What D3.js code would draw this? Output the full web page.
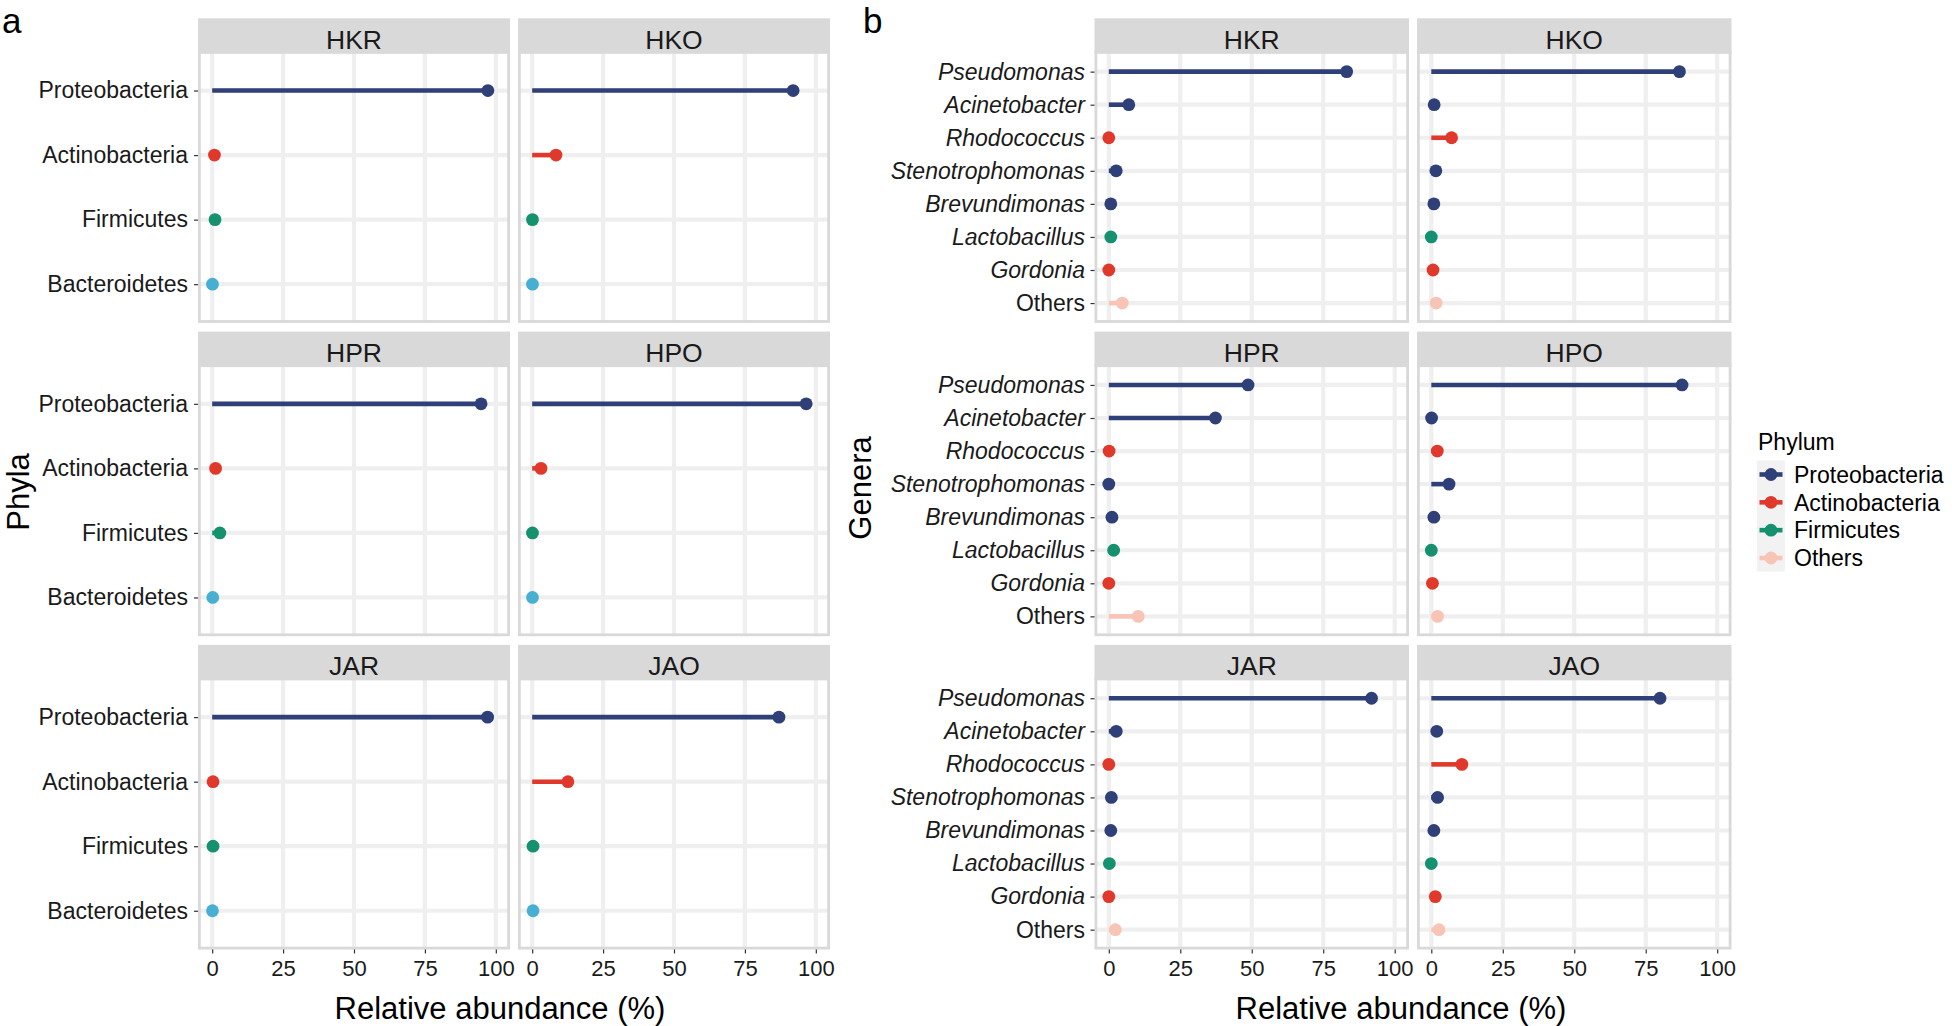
<!DOCTYPE html>
<html>
<head>
<meta charset="utf-8">
<script src="https://cdn.jsdelivr.net/npm/d3@7"></script>
<style>
  html, body { margin: 0; padding: 0; background: #ffffff; }
  svg { display: block; font-family: "Liberation Sans", Arial, Helvetica, sans-serif; }
</style>
</head>
<body>
<svg id="chart" width="1952" height="1026"></svg>
<script>
// ---------------- data ----------------
const sites = ["HKR", "HKO", "HPR", "HPO", "JAR", "JAO"];

const phyla = ["Proteobacteria", "Actinobacteria", "Firmicutes", "Bacteroidetes"];
const phylaHKR = [97.2, 0.8, 1.0, 0.1];
const phylaHKO = [92.0, 8.4, 0.1, 0.1];
const phylaHPR = [94.8, 1.2, 2.7, 0.2];
const phylaHPO = [96.6, 3.1, 0.1, 0.1];
const phylaJAR = [97.1, 0.3, 0.3, 0.1];
const phylaJAO = [87.0, 12.6, 0.3, 0.3];

const genera = ["Pseudomonas", "Acinetobacter", "Rhodococcus", "Stenotrophomonas",
                "Brevundimonas", "Lactobacillus", "Gordonia", "Others"];
const generaPhylum = ["Proteobacteria", "Proteobacteria", "Actinobacteria", "Proteobacteria",
                      "Proteobacteria", "Firmicutes", "Actinobacteria", "Others"];
const generaHKR = [83.2, 7.0, 0.0, 2.6, 0.7, 0.7, 0.0, 4.7];
const generaHKO = [86.8, 1.0, 7.1, 1.6, 0.9, 0.0, 0.6, 1.7];
const generaHPR = [48.7, 37.3, 0.1, 0.0, 1.1, 1.7, 0.0, 10.3];
const generaHPO = [87.7, 0.1, 2.1, 6.2, 0.9, 0.0, 0.4, 2.2];
const generaJAR = [91.9, 2.6, 0.0, 0.9, 0.7, 0.2, 0.0, 2.3];
const generaJAO = [80.0, 1.9, 10.7, 2.2, 0.9, 0.0, 1.4, 2.7];

const colourNames = ["Proteobacteria", "Actinobacteria", "Firmicutes", "Bacteroidetes", "Others"];
const colourValues = ["#2F3F77", "#E0392C", "#16916F", "#47B0D2", "#F8C4B5"];
const legendKeys = ["Proteobacteria", "Actinobacteria", "Firmicutes", "Others"];
const xTicks = [0, 25, 50, 75, 100];

// ---------------- tables ----------------
const phylaTable = [phylaHKR, phylaHKO, phylaHPR, phylaHPO, phylaJAR, phylaJAO];
const generaTable = [generaHKR, generaHKO, generaHPR, generaHPO, generaJAR, generaJAO];
const colour = d3.scaleOrdinal().domain(colourNames).range(colourValues);

// ---------------- layout ----------------
const svg = d3.select("#chart");
const FONT = "'Liberation Sans', Arial, Helvetica, sans-serif";
const rowTop = [18.3, 331.6, 644.9];
const stripH = 33.5;
const panelBottomOff = 304.6;
const gridCol = "#EFEFEF";
const borderCol = "#D9D9D9";

function drawBlock(opts) {
  const { colX, width, cats, catColours, table, italicFn, labelPad } = opts;
  sites.forEach((site, i) => {
    const r = Math.floor(i / 2), c = i % 2;
    const x0 = colX[c], x1 = colX[c] + width;
    const sTop = rowTop[r];
    const top = sTop + stripH;
    const bottom = sTop + panelBottomOff;
    const x = d3.scaleLinear().domain([-5, 105]).range([x0, x1]);
    const y = d3.scalePoint().domain(cats).range([top, bottom]).padding(0.6);
    const g = svg.append("g");

    // panel background
    g.append("rect").attr("x", x0).attr("y", top).attr("width", width).attr("height", bottom - top)
      .attr("fill", "#ffffff");
    // gridlines
    g.selectAll(".gx").data(xTicks).enter().append("line")
      .attr("x1", d => x(d)).attr("x2", d => x(d)).attr("y1", top).attr("y2", bottom)
      .attr("stroke", gridCol).attr("stroke-width", 4.2);
    g.selectAll(".gy").data(cats).enter().append("line")
      .attr("x1", x0).attr("x2", x1).attr("y1", d => y(d)).attr("y2", d => y(d))
      .attr("stroke", gridCol).attr("stroke-width", 4.2);
    // border
    g.append("rect").attr("x", x0 + 1.4).attr("y", top).attr("width", width - 2.8)
      .attr("height", bottom - top - 1.4).attr("fill", "none")
      .attr("stroke", borderCol).attr("stroke-width", 2.8);
    // strip
    g.append("rect").attr("x", x0).attr("y", sTop).attr("width", width).attr("height", stripH + 2)
      .attr("fill", borderCol);
    g.append("text").attr("x", (x0 + x1) / 2).attr("y", sTop + 30.5)
      .attr("text-anchor", "middle").attr("font-size", 26.5).attr("fill", "#1A1A1A")
      .style("font-family", FONT).text(site);

    // lollipops
    const vals = table[i];
    const pts = cats.map((cat, k) => ({ cat, v: vals[k], col: colour(catColours[k]) }));
    g.selectAll(".seg").data(pts).enter().append("line")
      .attr("x1", x(0)).attr("x2", d => x(d.v))
      .attr("y1", d => y(d.cat)).attr("y2", d => y(d.cat))
      .attr("stroke", d => d.col).attr("stroke-width", 4.6);
    g.selectAll(".pt").data(pts).enter().append("circle")
      .attr("cx", d => x(d.v)).attr("cy", d => y(d.cat)).attr("r", 6.4)
      .attr("fill", d => d.col);

    // y axis (left column only)
    if (c === 0) {
      const ay = g.append("g").attr("transform", `translate(${x0},0)`)
        .call(d3.axisLeft(y).tickSize(4).tickPadding(labelPad));
      ay.select(".domain").remove();
      ay.selectAll(".tick line").attr("stroke", "#333333").attr("stroke-width", 1.2);
      ay.selectAll(".tick text").attr("font-size", 23).attr("fill", "#1A1A1A")
        .style("font-family", FONT)
        .style("font-style", d => italicFn(d) ? "italic" : "normal");
    }
    // x axis (bottom row only)
    if (r === 2) {
      const ax = g.append("g").attr("transform", `translate(0,${bottom})`)
        .call(d3.axisBottom(x).tickValues(xTicks).tickSize(4).tickPadding(7));
      ax.select(".domain").remove();
      ax.selectAll(".tick line").attr("stroke", "#333333").attr("stroke-width", 1.2);
      ax.selectAll(".tick text").attr("font-size", 22).attr("fill", "#1A1A1A")
        .style("font-family", FONT);
    }
  });
}

// Panel a
drawBlock({
  colX: [198, 518], width: 312, cats: phyla, catColours: phyla,
  table: phylaTable, italicFn: () => false, labelPad: 6
});
// Panel b
drawBlock({
  colX: [1094.5, 1417], width: 314.5, cats: genera, catColours: generaPhylum,
  table: generaTable, italicFn: d => d !== "Others", labelPad: 5.5
});

// axis titles
svg.append("text").attr("x", 500).attr("y", 1019).attr("text-anchor", "middle")
  .attr("font-size", 31).attr("fill", "#000").style("font-family", FONT)
  .text("Relative abundance (%)");
svg.append("text").attr("x", 1401).attr("y", 1019).attr("text-anchor", "middle")
  .attr("font-size", 31).attr("fill", "#000").style("font-family", FONT)
  .text("Relative abundance (%)");
svg.append("text").attr("transform", "translate(28.5,492) rotate(-90)").attr("text-anchor", "middle")
  .attr("font-size", 31).attr("fill", "#000").style("font-family", FONT).text("Phyla");
svg.append("text").attr("transform", "translate(871,488) rotate(-90)").attr("text-anchor", "middle")
  .attr("font-size", 31).attr("fill", "#000").style("font-family", FONT).text("Genera");

// panel tags
svg.append("text").attr("x", 2).attr("y", 33).attr("font-size", 35).attr("fill", "#000")
  .style("font-family", FONT).text("a");
svg.append("text").attr("x", 863).attr("y", 33).attr("font-size", 35).attr("fill", "#000")
  .style("font-family", FONT).text("b");

// legend
const lg = svg.append("g");
lg.append("text").attr("x", 1758).attr("y", 449.5).attr("font-size", 23).attr("fill", "#000")
  .style("font-family", FONT).text("Phylum");
const keyY = d3.scalePoint().domain(legendKeys).range([474.5, 558]);
lg.append("rect").attr("x", 1757).attr("y", 460.5).attr("width", 28).attr("height", 111)
  .attr("fill", "#F2F2F2");
const items = lg.selectAll(".item").data(legendKeys).enter().append("g");
items.append("line").attr("x1", 1759.5).attr("x2", 1782.5)
  .attr("y1", d => keyY(d)).attr("y2", d => keyY(d))
  .attr("stroke", d => colour(d)).attr("stroke-width", 4.6);
items.append("circle").attr("cx", 1771).attr("cy", d => keyY(d)).attr("r", 6.4)
  .attr("fill", d => colour(d));
items.append("text").attr("x", 1794).attr("y", d => keyY(d) + 8.2).attr("font-size", 23)
  .attr("fill", "#000").style("font-family", FONT).text(d => d);
</script>
</body>
</html>
